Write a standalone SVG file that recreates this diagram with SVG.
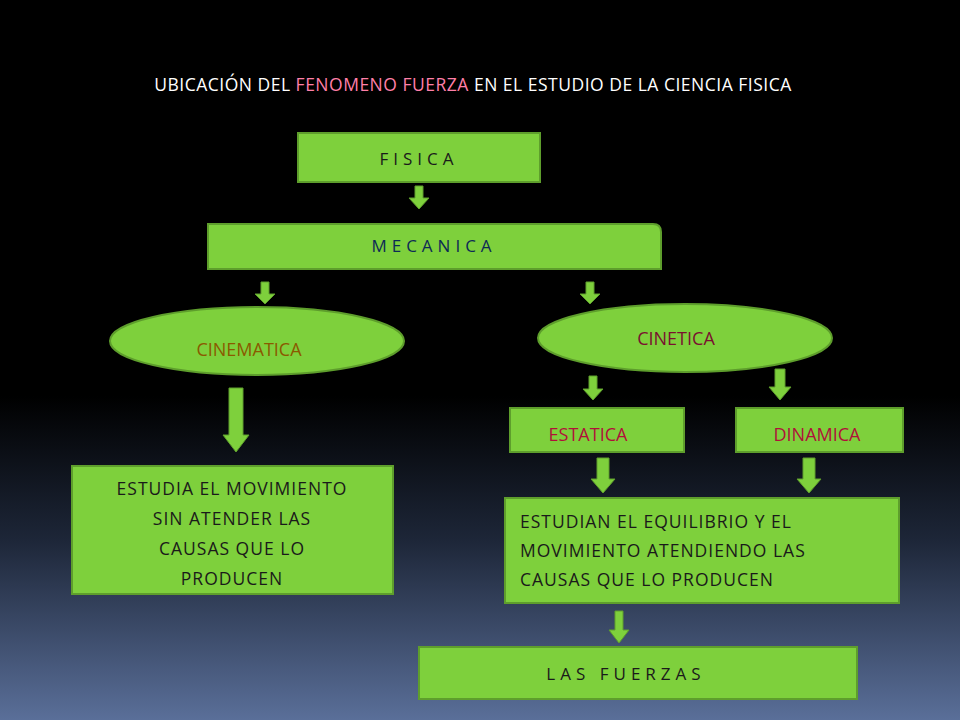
<svg xmlns="http://www.w3.org/2000/svg" width="960" height="720" viewBox="0 0 960 720">
<defs>
<linearGradient id="bg" x1="0" y1="0" x2="0" y2="1">
<stop offset="0" stop-color="#000"/><stop offset="0.55" stop-color="#000"/><stop offset="0.75" stop-color="#1d2638"/><stop offset="1" stop-color="#5a6f99"/>
</linearGradient>
<style>
.box{fill:#7ed03c;stroke:#5e9e2c;stroke-width:2}
.arr{fill:#7ed03c;stroke:#5e9e2c;stroke-width:1}
text{font-family:"Open Sans","Liberation Sans",sans-serif}
.sp{font-size:17px;letter-spacing:5px}
.body{font-size:17.5px;fill:#1a1a1a;letter-spacing:1px}
</style>
</defs>
<rect width="960" height="720" fill="url(#bg)"/>
<text x="473" y="91" text-anchor="middle" font-size="17.5" fill="#fff" letter-spacing="0.5">UBICACIÓN DEL <tspan fill="#ff7fa8">FENOMENO FUERZA</tspan> EN EL ESTUDIO DE LA CIENCIA FISICA</text>
<g id="fisica"><rect class="box" x="298" y="133" width="242" height="49"/><text class="sp" x="419" y="165" text-anchor="middle" fill="#1a1a1a">FISICA</text></g>
<g id="mecanica"><path class="box" d="M208 224H653Q661 224 661 232V269H208Z"/><text class="sp" x="434" y="252" text-anchor="middle" fill="#0d2b55">MECANICA</text></g>
<g id="cinematica"><ellipse class="box" cx="257" cy="341" rx="147" ry="34"/><text x="249" y="356" text-anchor="middle" font-size="18" fill="#8a5a00">CINEMATICA</text></g>
<g id="cinetica"><ellipse class="box" cx="685" cy="338" rx="147" ry="34"/><text x="676" y="345" text-anchor="middle" font-size="18" fill="#7a1030">CINETICA</text></g>
<g id="estatica"><rect class="box" x="510" y="408" width="174" height="44"/><text x="588" y="441" text-anchor="middle" font-size="18" fill="#b0103a">ESTATICA</text></g>
<g id="dinamica"><rect class="box" x="736" y="408" width="167" height="44"/><text x="817" y="441" text-anchor="middle" font-size="18" fill="#b0103a">DINAMICA</text></g>
<g id="estudia"><rect class="box" x="72" y="466" width="321" height="128"/><text class="body" text-anchor="middle"><tspan x="232" y="495">ESTUDIA EL MOVIMIENTO</tspan><tspan x="232" y="525">SIN ATENDER LAS</tspan><tspan x="232" y="555">CAUSAS QUE LO</tspan><tspan x="232" y="585">PRODUCEN</tspan></text></g>
<g id="estudian"><rect class="box" x="505" y="498" width="394" height="105"/><text class="body"><tspan x="520" y="528">ESTUDIAN EL EQUILIBRIO Y EL</tspan><tspan x="520" y="557">MOVIMIENTO ATENDIENDO LAS</tspan><tspan x="520" y="586">CAUSAS QUE LO PRODUCEN</tspan></text></g>
<g id="fuerzas"><rect class="box" x="419" y="647" width="438" height="52"/><text class="sp" x="626" y="680" text-anchor="middle" fill="#1a1a1a">LAS FUERZAS</text></g>
<g id="connectors">
<polygon class="arr" points="415,186 423,186 423,198 429,198 419,209 409,198 415,198"/>
<polygon class="arr" points="261,282 269,282 269,294 275,294 265,304 255,294 261,294"/>
<polygon class="arr" points="586,282 594,282 594,294 600,294 590,304 580,294 586,294"/>
<polygon class="arr" points="229,388 243,388 243,435 249,435 236,452 223,435 229,435"/>
<polygon class="arr" points="589,376 597,376 597,389 603,389 593,400 583,389 589,389"/>
<polygon class="arr" points="775,369 785,369 785,387 791,387 780,400 769,387 775,387"/>
<polygon class="arr" points="597,458 609,458 609,479 615,479 603,493 591,479 597,479"/>
<polygon class="arr" points="803,458 815,458 815,479 821,479 809,493 797,479 803,479"/>
<polygon class="arr" points="615,611 623,611 623,630 629,630 619,643 609,630 615,630"/>
</g>
</svg>
